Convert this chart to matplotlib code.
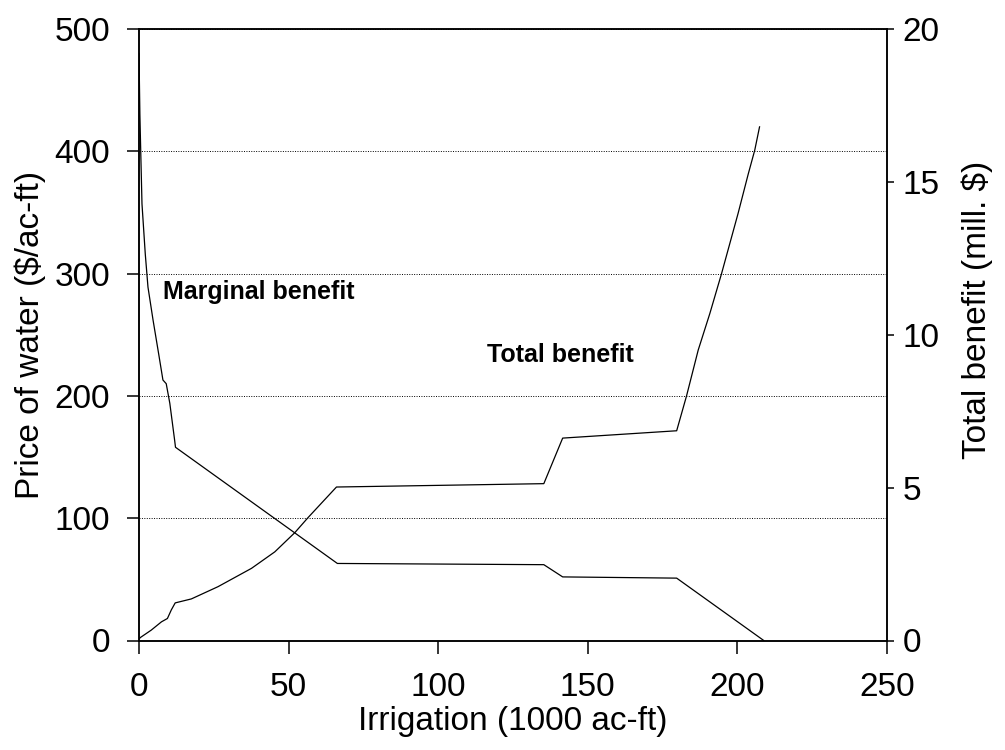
import matplotlib
matplotlib.use("Agg")
import matplotlib.pyplot as plt

# --- data ---
# marginal benefit, left axis ($/ac-ft)
irr_mb = [0, 0.3, 0.6, 1.0, 2.1, 3.0, 4.7, 6.6, 8.0, 9.1, 10.3, 11.9, 12.2,
          66.3, 135.3, 141.6, 179.7, 208.8]
price_mb = [480, 430, 398, 357, 316, 289, 262, 234, 213, 210, 194, 164, 158,
            63, 62, 52, 51, 0]

# total benefit, right axis (mill. $)
irr_tb = [0, 0.5, 4.1, 7.5, 9.5, 10.8, 12.1, 17.5, 26.4, 37.6, 45.4, 52.1, 56.5,
          62.1, 66.0, 135.3, 141.6, 179.7, 183.0, 186.9, 190.8, 194.7, 200.2,
          203.6, 205.8, 207.4]
benefit_tb = [0.05, 0.1, 0.34, 0.61, 0.72, 1.0, 1.23, 1.36, 1.76, 2.36, 2.9, 3.53,
              4.02, 4.61, 5.02, 5.13, 6.62, 6.86, 8.0, 9.5, 10.7, 12.0, 13.96,
              15.25, 16.04, 16.8]

x_ticks = [0, 50, 100, 150, 200, 250]
left_ticks = [0, 100, 200, 300, 400, 500]
right_ticks = [0, 5, 10, 15, 20]

plt.rcParams['font.family'] = ['Liberation Sans', 'DejaVu Sans']

fig, ax = plt.subplots(figsize=(10.05, 7.5))
fig.subplots_adjust(left=0.1383, right=0.8826, bottom=0.146, top=0.9613)
ax2 = ax.twinx()

ax.plot(irr_mb, price_mb, color='black', lw=0.9)
ax2.plot(irr_tb, benefit_tb, color='black', lw=0.9)

ax.set_xlim(0, 250)
ax.set_ylim(0, 500)
ax2.set_ylim(0, 20)
ax.set_xticks(x_ticks)
ax.set_yticks(left_ticks)
ax2.set_yticks(right_ticks)

ax.yaxis.grid(True, linestyle=(0, (1, 1.5)), color='black', lw=0.7)

for a in (ax, ax2):
    for s in a.spines.values():
        s.set_linewidth(1.1)

ax.tick_params(axis='both', direction='out', length=9, width=1.1, labelsize=24, pad=12)
ax.tick_params(axis='x', pad=14)
ax2.tick_params(axis='y', direction='out', length=5, width=1.1, labelsize=24, pad=6)

ax.set_xlabel("Irrigation (1000 ac-ft)", fontsize=24, labelpad=2)
ax.set_ylabel("Price of water ($/ac-ft)", fontsize=24, labelpad=6)
ax2.set_ylabel("Total benefit (mill. $)", fontsize=24)
ax2.yaxis.set_label_coords(1.10, 0.54)

ax.text(7.9, 279, "Marginal benefit", fontsize=18, fontweight='bold', va='baseline')
ax.text(116.4, 228, "Total benefit", fontsize=18, fontweight='bold', va='baseline')

fig.savefig("out.png", dpi=100)
